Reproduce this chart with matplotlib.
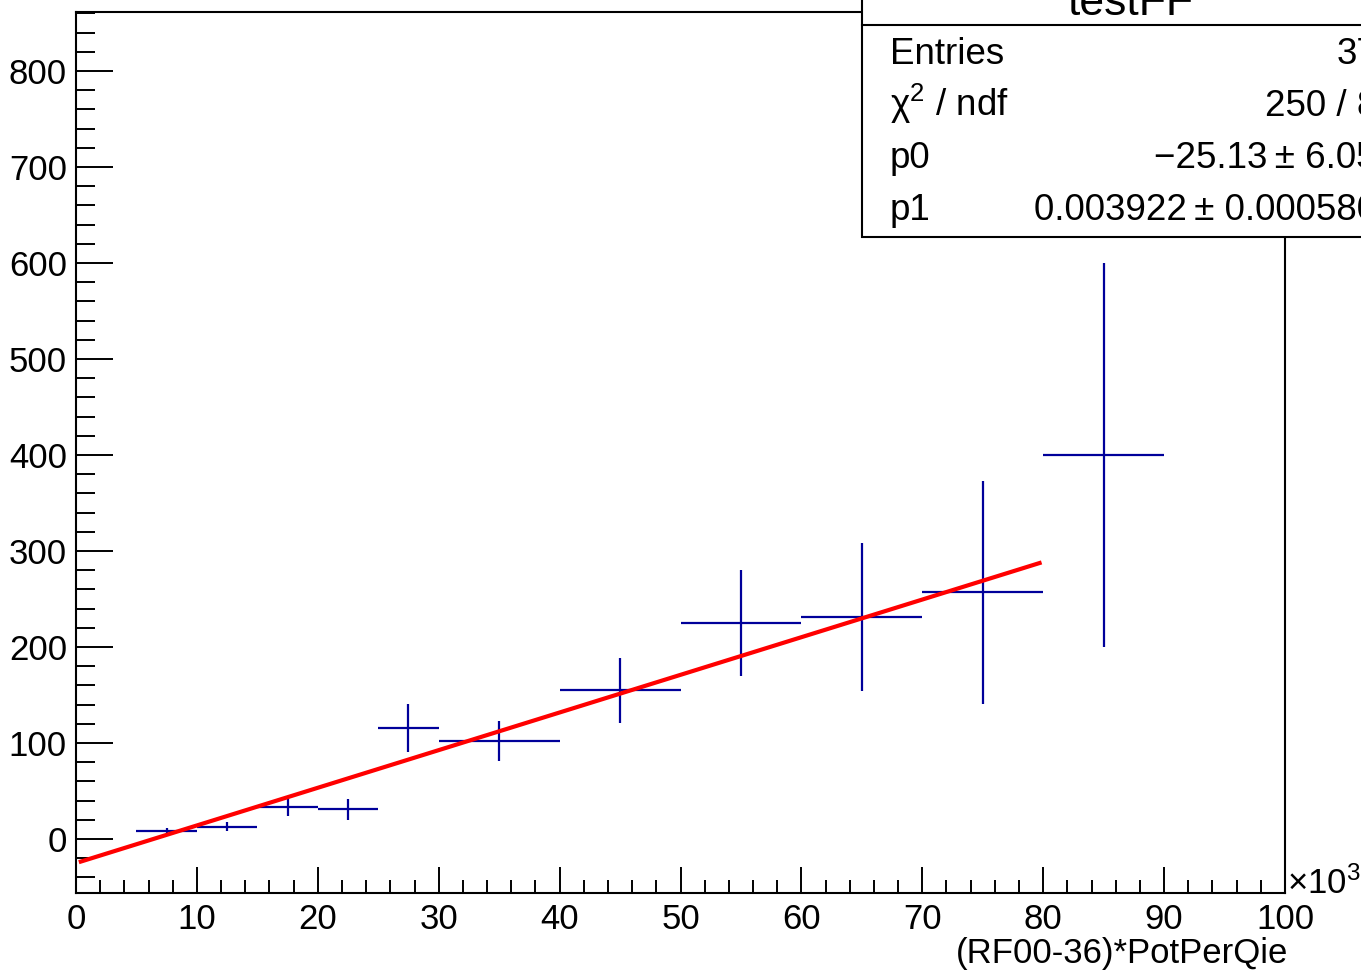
import numpy as np
import matplotlib
matplotlib.use("Agg")
import matplotlib.pyplot as plt
from matplotlib.patches import Rectangle
from matplotlib.lines import Line2D
from matplotlib.ticker import MultipleLocator

plt.rcParams["font.family"] = ["Liberation Sans", "DejaVu Sans"]
plt.rcParams["mathtext.fontset"] = "custom"
plt.rcParams["mathtext.rm"] = "Liberation Sans"
plt.rcParams["mathtext.it"] = "Liberation Sans:italic"

# bins in units of 10^3
bin_centers = [7.5, 12.5, 17.5, 22.5, 27.5, 35, 45, 55, 65, 75, 85]
bin_halfwidths = [2.5, 2.5, 2.5, 2.5, 2.5, 5, 5, 5, 5, 5, 5]
values = [8.3, 12.8, 33, 31, 116, 102, 155, 225, 231, 257, 400]
errors = [3, 5, 9.5, 11, 25, 21, 34, 55, 77, 116, 200]

# pol1 fit
p0 = -25.13
p1 = 0.003922
fit_range = (0.4, 79.7)

stat_labels = ["Entries", "χ$^{2}$ / ndf", "p0", "p1"]
stat_values = ["37", "250 / 8", "\u221225.13\u2009\u00b1 6.05", "0.003922\u2009\u00b1 0.000580"]

W, H = 1361, 971
fig = plt.figure(figsize=(W / 100, H / 100), dpi=100)
ax = fig.add_axes([76 / W, 1 - 893 / H, (1285 - 76) / W, (893 - 12) / H])

blue = "#00009a"
ax.errorbar(bin_centers, values, xerr=bin_halfwidths, yerr=errors,
            fmt="none", ecolor=blue, elinewidth=1.6, capsize=0)

xf = np.linspace(fit_range[0], fit_range[1], 100)
ax.plot(xf, p0 + p1 * xf * 1000, color="red", lw=3)

ax.set_xlim(0, 100)
ax.set_ylim(-56.3, 861.5)
ax.xaxis.set_major_locator(MultipleLocator(10))
ax.xaxis.set_minor_locator(MultipleLocator(2))
ax.yaxis.set_major_locator(MultipleLocator(100))
ax.yaxis.set_minor_locator(MultipleLocator(20))
ax.tick_params(axis="both", which="both", direction="in", width=1.4,
               top=False, right=False, labelsize=25, colors="black")
ax.tick_params(axis="y", which="major", length=26.6, pad=6.5)
ax.tick_params(axis="y", which="minor", length=13.7)
ax.tick_params(axis="x", which="major", length=18.7, pad=7)
ax.tick_params(axis="x", which="minor", length=9.4)
for s in ax.spines.values():
    s.set_linewidth(1.5)

fig.text(1288 / W, 1 - 953 / H, "(RF00-36)*PotPerQie", ha="right",
         va="center", fontsize=25)
fig.text(1287 / W, 1 - 894 / H, "×10$^{3}$", ha="left", va="baseline",
         fontsize=25)

# stats box with title
tr = fig.transFigure
box = Rectangle((862 / W, 1 - 237 / H), (1500 - 862) / W, 250 / H,
                transform=tr, facecolor="white", edgecolor="black",
                lw=1.5, zorder=5)
fig.add_artist(box)
fig.add_artist(Line2D([862 / W, 1.1], [1 - 25 / H, 1 - 25 / H],
                      transform=tr, color="black", lw=1.5, zorder=6))
fig.text(1130 / W, 1 - 15 / H, "testFF", ha="center", va="baseline",
         fontsize=32, zorder=7)

baselines = [64, 115.5, 168, 220]
for lab, val, yb in zip(stat_labels, stat_values, baselines):
    fig.text(890 / W, 1 - yb / H, lab, ha="left", va="baseline",
             fontsize=26.5, zorder=7)
    fig.text(1377 / W, 1 - yb / H, val, ha="right", va="baseline",
             fontsize=26.5, zorder=7)

fig.savefig("out.png", dpi=100)
